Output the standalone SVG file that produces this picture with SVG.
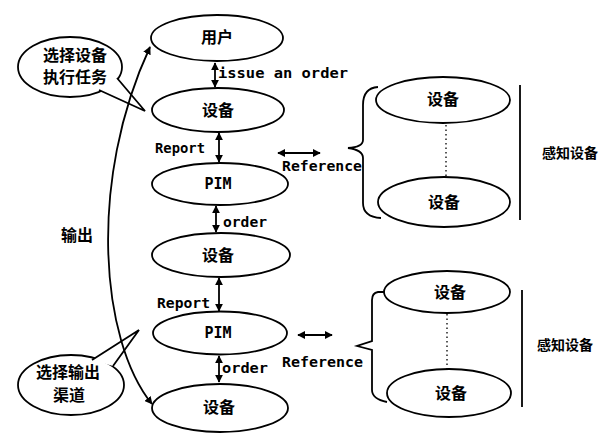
<svg xmlns="http://www.w3.org/2000/svg" width="606" height="438" viewBox="0 0 606 438">
<style>
.node{fill:#fff;stroke:#000;stroke-width:1.8}
.cjk{font-family:"Noto Sans CJK SC","Noto Sans",sans-serif;font-weight:bold;font-size:16px;text-anchor:middle;fill:#000}
.lbl{font-family:"DejaVu Sans Mono","Liberation Mono",monospace;font-weight:bold;font-size:14px;fill:#000}
.pim{font-family:"DejaVu Sans Mono","Liberation Mono",monospace;font-weight:bold;font-size:15px;text-anchor:middle;fill:#000}
.edge{fill:none;stroke:#000;stroke-width:1.8}
.dot{fill:none;stroke:#000;stroke-width:1.3;stroke-dasharray:1.5,3}
</style>
<defs>
<marker id="ah" viewBox="0 0 10 10" refX="9" refY="5" markerWidth="8" markerHeight="8" markerUnits="userSpaceOnUse" orient="auto-start-reverse">
<path d="M0,0 L10,5 L0,10 z" fill="#000"/>
</marker>
</defs>

<g id="bubble1">
<ellipse class="node" cx="70" cy="67" rx="52" ry="30"/>
<path d="M117,78 L145,111 L99,90" fill="#fff" stroke="#000" stroke-width="1.8"/>
<text class="cjk" x="75" y="61">选择设备</text>
<text class="cjk" x="75" y="83">执行任务</text>
</g>

<g id="bubble2">
<ellipse class="node" cx="71" cy="385" rx="53" ry="30"/>
<path d="M92,360 L139,330 L113,366" fill="#fff" stroke="#000" stroke-width="1.8"/>
<text class="cjk" x="68" y="378">选择输出</text>
<text class="cjk" x="69" y="401">渠道</text>
</g>

<g id="connectors">
<line class="edge" x1="215" y1="63" x2="215" y2="87" marker-start="url(#ah)" marker-end="url(#ah)"/>
<line class="edge" x1="219" y1="133" x2="219" y2="162" marker-start="url(#ah)" marker-end="url(#ah)"/>
<line class="edge" x1="216" y1="206" x2="216" y2="232" marker-start="url(#ah)" marker-end="url(#ah)"/>
<line class="edge" x1="219" y1="278" x2="219" y2="311" marker-start="url(#ah)" marker-end="url(#ah)"/>
<line class="edge" x1="219" y1="356" x2="219" y2="382" marker-start="url(#ah)" marker-end="url(#ah)"/>
<path class="edge" d="M152,404 C100,340 88,180 150,47" marker-start="url(#ah)" marker-end="url(#ah)"/>
<line class="edge" x1="278" y1="153" x2="320" y2="153" marker-start="url(#ah)" marker-end="url(#ah)"/>
<line class="edge" x1="298" y1="335" x2="332" y2="335" marker-start="url(#ah)" marker-end="url(#ah)"/>
<text class="lbl" x="218" y="78" textLength="130" lengthAdjust="spacingAndGlyphs">issue an order</text>
<text class="lbl" x="155" y="153" textLength="50" lengthAdjust="spacingAndGlyphs">Report</text>
<text class="lbl" x="223" y="227" textLength="44" lengthAdjust="spacingAndGlyphs">order</text>
<text class="lbl" x="157" y="308" textLength="53" lengthAdjust="spacingAndGlyphs">Report</text>
<text class="lbl" x="222" y="373" textLength="46" lengthAdjust="spacingAndGlyphs">order</text>
<text class="lbl" x="282" y="171" textLength="80" lengthAdjust="spacingAndGlyphs">Reference</text>
<text class="lbl" x="282" y="367" textLength="81" lengthAdjust="spacingAndGlyphs">Reference</text>
<text class="cjk" x="77" y="241">输出</text>
</g>

<g id="user"><ellipse class="node" cx="217" cy="38" rx="66" ry="23"/><text class="cjk" x="217" y="43">用户</text></g>
<g id="device1"><ellipse class="node" cx="218" cy="110" rx="66" ry="22"/><text class="cjk" x="218" y="116">设备</text></g>
<g id="pim1"><ellipse class="node" cx="220" cy="184" rx="68" ry="21"/><text class="pim" x="218" y="189">PIM</text></g>
<g id="device2"><ellipse class="node" cx="221" cy="255" rx="69" ry="22"/><text class="cjk" x="218" y="261">设备</text></g>
<g id="pim2"><ellipse class="node" cx="220" cy="333" rx="67" ry="21.5"/><text class="pim" x="218" y="338">PIM</text></g>
<g id="device3"><ellipse class="node" cx="220" cy="408" rx="68" ry="24"/><text class="cjk" x="219" y="413">设备</text></g>

<g id="sensors1">
<path class="edge" d="M378,87 Q363,88 363,105 L363,140 Q363,147 348,148 Q363,150 363,158 L363,203 Q363,217 381,218"/>
<ellipse class="node" cx="443" cy="100" rx="67" ry="23"/><text class="cjk" x="443" y="105">设备</text>
<line class="dot" x1="446" y1="125" x2="446" y2="176"/>
<ellipse class="node" cx="444" cy="202" rx="66" ry="25"/><text class="cjk" x="444" y="208">设备</text>
<line class="edge" x1="520" y1="85" x2="520" y2="220"/>
<text class="cjk" x="570" y="158" style="font-size:14px">感知设备</text>
</g>

<g id="sensors2">
<path class="edge" d="M386,292 L378,292 Q372,293 372,300 L372,341 L357,346 L372,350 L372,390 Q372,399 387,402"/>
<ellipse class="node" cx="447" cy="292" rx="63" ry="21"/><text class="cjk" x="450" y="298">设备</text>
<line class="dot" x1="447" y1="314" x2="447" y2="369"/>
<ellipse class="node" cx="449" cy="393" rx="62" ry="24"/><text class="cjk" x="451" y="399">设备</text>
<line class="edge" x1="522" y1="290" x2="522" y2="407"/>
<text class="cjk" x="565" y="350" style="font-size:14px">感知设备</text>
</g>
</svg>
